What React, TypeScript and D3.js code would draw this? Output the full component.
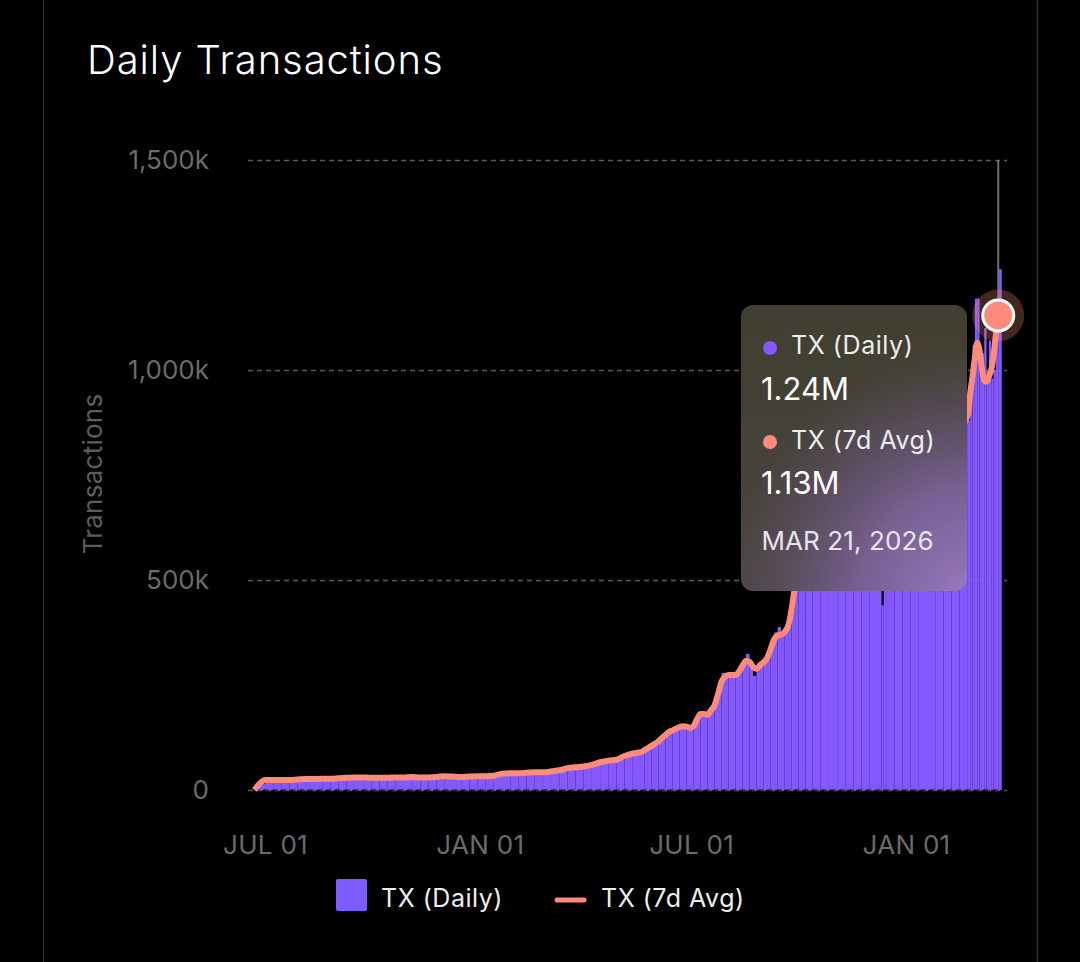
import * as d3 from "d3";
import {useRef, useEffect} from "react";

const txDates = [
    "2024-06-22", "2024-06-26", "2024-07-01", "2024-07-08", "2024-07-15", "2024-07-22", "2024-07-29",
    "2024-08-05", "2024-08-12", "2024-08-19", "2024-08-26", "2024-09-02", "2024-09-09", "2024-09-16",
    "2024-09-23", "2024-09-30", "2024-10-07", "2024-10-14", "2024-10-21", "2024-10-28", "2024-11-04",
    "2024-11-11", "2024-11-18", "2024-11-25", "2024-12-02", "2024-12-09", "2024-12-16", "2024-12-23",
    "2024-12-30", "2025-01-06", "2025-01-13", "2025-01-20", "2025-01-27", "2025-02-03", "2025-02-10",
    "2025-02-17", "2025-02-24", "2025-03-03", "2025-03-10", "2025-03-17", "2025-03-24", "2025-03-31",
    "2025-04-07", "2025-04-14", "2025-04-21", "2025-04-28", "2025-05-05", "2025-05-12",
    "2025-05-19", "2025-05-22", "2025-05-25", "2025-05-28", "2025-05-31", "2025-06-03", "2025-06-06",
    "2025-06-09", "2025-06-12", "2025-06-15", "2025-06-18", "2025-06-21", "2025-06-24", "2025-06-27",
    "2025-06-30", "2025-07-03", "2025-07-06", "2025-07-09", "2025-07-12", "2025-07-15", "2025-07-18",
    "2025-07-21", "2025-07-24", "2025-07-27", "2025-07-30", "2025-08-02", "2025-08-05", "2025-08-08",
    "2025-08-11", "2025-08-14", "2025-08-17", "2025-08-20", "2025-08-23", "2025-08-26", "2025-08-29",
    "2025-09-01", "2025-09-04", "2025-09-07", "2025-09-10", "2025-09-13", "2025-09-16", "2025-09-19",
    "2025-09-22", "2025-09-25", "2025-09-28", "2025-10-01", "2025-10-04", "2025-10-07",
    "2025-10-13", "2025-10-20", "2025-10-27", "2025-11-03", "2025-11-10", "2025-11-17", "2025-11-24", "2025-12-01",
    "2025-12-08", "2025-12-11", "2025-12-13", "2025-12-15", "2025-12-22", "2025-12-29", "2026-01-05",
    "2026-01-12", "2026-01-19", "2026-01-26", "2026-02-02", "2026-02-09", "2026-02-16", "2026-02-23",
    "2026-02-25", "2026-02-27", "2026-03-01", "2026-03-03", "2026-03-05", "2026-03-07", "2026-03-09",
    "2026-03-11", "2026-03-13", "2026-03-15", "2026-03-17", "2026-03-19", "2026-03-21",
];

// thousands of transactions
const txDaily = [
    0, 14, 23, 24, 24, 24, 25,
    26, 26, 27, 27, 28, 29, 30,
    30, 29, 29, 29, 30, 30, 31,
    30, 30, 31, 33, 32, 31, 32,
    33, 33, 34, 39, 40, 40, 41,
    42, 42, 44, 47, 52, 54, 56,
    60, 66, 70, 72, 81, 87,
    90, 95, 100, 105, 110, 116, 124,
    131, 138, 142, 146, 150, 154, 151,
    144, 170, 168, 181, 181, 178, 190,
    201, 250, 279, 272, 274, 274, 274,
    282, 298, 324, 300, 272, 288, 297,
    304, 314, 345, 375, 388, 370, 376,
    390, 430, 490, 560, 600, 620,
    640, 655, 665, 675, 685, 695, 705, 702,
    690, 440, 700, 720, 730, 755, 775,
    785, 805, 825, 845, 865, 880, 880,
    990, 1060, 1170, 1170, 1050, 1040, 1100,
    1000, 1070, 980, 1000, 1090, 1240,
];

const txAvg = [
    0, 14, 24, 24, 24, 24, 25,
    26, 26, 27, 27, 28, 29, 30,
    30, 29, 29, 29, 30, 30, 31,
    30, 30, 31, 33, 32, 31, 32,
    33, 33, 34, 39, 40, 40, 41,
    42, 42, 44, 47, 52, 54, 56,
    60, 66, 70, 72, 81, 87,
    90, 95, 100, 105, 110, 116, 124,
    131, 138, 142, 146, 150, 152, 151,
    148, 152, 168, 181, 181, 179, 190,
    201, 228, 258, 270, 274, 274, 274,
    282, 296, 308, 305, 293, 288, 297,
    304, 314, 335, 358, 368, 370, 376,
    390, 430, 490, 560, 600, 620,
    640, 650, 660, 670, 680, 690, 700, 700,
    690, 695, 697, 700, 720, 730, 750,
    770, 780, 800, 820, 840, 860, 893,
    945, 985, 1030, 1065, 1045, 1005, 975,
    972, 985, 1000, 1035, 1085, 1130,
];

const yTicks = [0, 500, 1000, 1500];
const xTicks = ["2024-07-01", "2025-01-01", "2025-07-01", "2026-01-01"];
const lastBarEnd = "2026-03-24";
const activeDate = "2026-03-21";
const activeAvg = 1130;

const FONT = "Inter, 'Noto Sans', sans-serif";
const PURPLE = "#8559ff";
const SALMON = "#fb8b7b";

export default function App() {
    const svgRef = useRef(null);
    const W = 1080;
    const H = 962;

    useEffect(() => {
        const svg = d3.select(svgRef.current);
        svg.selectAll("*").remove();

        const parse = d3.utcParse("%Y-%m-%d");
        const dates = txDates.map(d => parse(d) as Date);

        // x scale pinned on the two outer JUL/JAN ticks
        const x = d3.scaleUtc()
            .domain([parse("2024-07-01") as Date, parse("2026-01-01") as Date])
            .range([265, 906]);
        const y = d3.scaleLinear().domain([0, 1500]).range([790, 160]);

        const defs = svg.append("defs");
        const base = defs.append("linearGradient").attr("id", "tipBase")
            .attr("x1", 0).attr("y1", 0).attr("x2", 0).attr("y2", 1);
        base.append("stop").attr("offset", "0%").attr("stop-color", "#403f30");
        base.append("stop").attr("offset", "100%").attr("stop-color", "#4b4541");
        const glow = defs.append("radialGradient").attr("id", "tipGlow")
            .attr("gradientUnits", "userSpaceOnUse")
            .attr("cx", 975).attr("cy", 600).attr("r", 250);
        glow.append("stop").attr("offset", "0%").attr("stop-color", "#9b7bc4").attr("stop-opacity", 1);
        glow.append("stop").attr("offset", "45%").attr("stop-color", "#8567a8").attr("stop-opacity", 0.8);
        glow.append("stop").attr("offset", "100%").attr("stop-color", "#6a5580").attr("stop-opacity", 0);

        // card outline
        svg.append("rect")
            .attr("x", 43.5).attr("y", -12).attr("width", 994).attr("height", 1030).attr("rx", 14)
            .attr("fill", "#000").attr("stroke", "#2c2c2c").attr("stroke-width", 1.5);

        svg.append("text")
            .attr("x", 87).attr("y", 74)
            .attr("font-size", 40).attr("font-weight", 300).attr("letter-spacing", 0.9).attr("fill", "#fff")
            .text("Daily Transactions");

        // axes
        const yAxis = svg.append("g")
            .attr("transform", "translate(248,0)")
            .call(d3.axisLeft(y)
                .tickValues(yTicks)
                .tickFormat(d => d3.format(",")(d as number) + (d === 0 ? "" : "k"))
                .tickSizeInner(-759).tickSizeOuter(0).tickPadding(39));
        yAxis.select(".domain").remove();
        yAxis.selectAll(".tick line")
            .attr("stroke", "#5a5a5a").attr("stroke-width", 1.4).attr("stroke-dasharray", "5 4");
        yAxis.selectAll(".tick text")
            .attr("fill", "#6b6b6b").attr("font-size", 26).attr("font-family", FONT);

        const xAxis = svg.append("g")
            .attr("transform", "translate(0,790)")
            .call(d3.axisBottom(x)
                .tickValues(xTicks.map(d => parse(d) as Date))
                .tickFormat(d => d3.utcFormat("%b %d")(d as Date).toUpperCase())
                .tickSize(0).tickPadding(46));
        xAxis.select(".domain").remove();
        xAxis.selectAll(".tick text")
            .attr("fill", "#6b6b6b").attr("font-size", 26).attr("letter-spacing", 0.3).attr("font-family", FONT);

        svg.append("text")
            .attr("transform", "translate(102,474) rotate(-90)")
            .attr("text-anchor", "middle")
            .attr("font-size", 26).attr("letter-spacing", 0.25).attr("fill", "#5c5c5c")
            .text("Transactions");

        // bars run from their date to the next one, the antialiased edges give the stripes
        const barEnd = (i: number) => i < dates.length - 1 ? dates[i + 1] : parse(lastBarEnd) as Date;
        svg.append("g").selectAll("rect")
            .data(txDaily)
            .join("rect")
            .attr("x", (_, i) => x(dates[i]))
            .attr("width", (_, i) => x(barEnd(i)) - x(dates[i]))
            .attr("y", d => y(d))
            .attr("height", d => y(0) - y(d))
            .attr("fill", PURPLE);

        // zero line shows through the bottom of the bars
        svg.append("line")
            .attr("x1", x(dates[0])).attr("x2", x(parse(lastBarEnd) as Date))
            .attr("y1", y(0)).attr("y2", y(0))
            .attr("stroke", "#2a2a3a").attr("stroke-width", 1.4).attr("stroke-dasharray", "5 4");

        const line = d3.line<number>()
            .x((_, i) => x(dates[i]))
            .y(d => y(d))
            .curve(d3.curveMonotoneX);
        svg.append("path")
            .datum(txAvg)
            .attr("fill", "none")
            .attr("stroke", SALMON)
            .attr("stroke-width", 6)
            .attr("stroke-linejoin", "round")
            .attr("d", line);

        // hover state
        const ax = x(parse(activeDate) as Date);
        const ay = y(activeAvg);
        svg.append("line")
            .attr("x1", ax).attr("x2", ax).attr("y1", y(1500)).attr("y2", ay)
            .attr("stroke", "#6f6f6f").attr("stroke-width", 2);
        svg.append("circle").attr("cx", ax).attr("cy", ay).attr("r", 26)
            .attr("fill", SALMON).attr("opacity", 0.27);
        svg.append("circle").attr("cx", ax).attr("cy", ay).attr("r", 15.5)
            .attr("fill", SALMON).attr("stroke", "#fff").attr("stroke-width", 3);

        // tooltip
        const tip = svg.append("g");
        tip.append("rect").attr("x", 741).attr("y", 305).attr("width", 226).attr("height", 286).attr("rx", 12)
            .attr("fill", "url(#tipBase)");
        tip.append("rect").attr("x", 741).attr("y", 305).attr("width", 226).attr("height", 286).attr("rx", 12)
            .attr("fill", "url(#tipGlow)");
        tip.append("circle").attr("cx", 770).attr("cy", 348).attr("r", 7).attr("fill", PURPLE);
        tip.append("circle").attr("cx", 770).attr("cy", 442).attr("r", 7).attr("fill", SALMON);
        const tipText = (tx: number, ty: number, size: number, spacing: number, fill: string, label: string) =>
            tip.append("text").attr("x", tx).attr("y", ty).attr("font-size", size)
                .attr("letter-spacing", spacing).attr("fill", fill).text(label);
        tipText(791, 354, 25, 0.55, "#eeeeee", "TX (Daily)");
        tipText(761, 400, 31, 0, "#ffffff", "1.24M");
        tipText(791, 449, 25, 0.55, "#eeeeee", "TX (7d Avg)");
        tipText(761, 494, 31, 0, "#ffffff", "1.13M");
        tipText(761.5, 550, 26, 0.1, "#e8e4ec", "MAR 21, 2026");

        // legend
        const legend = svg.append("g");
        legend.append("rect").attr("x", 336).attr("y", 879).attr("width", 31).attr("height", 32).attr("rx", 2)
            .attr("fill", "#7c5cff");
        legend.append("text").attr("x", 381).attr("y", 907).attr("font-size", 25).attr("letter-spacing", 0.5)
            .attr("fill", "#eeeeee").text("TX (Daily)");
        legend.append("line").attr("x1", 557).attr("x2", 584).attr("y1", 900).attr("y2", 900)
            .attr("stroke", SALMON).attr("stroke-width", 5).attr("stroke-linecap", "round");
        legend.append("text").attr("x", 601).attr("y", 907).attr("font-size", 25).attr("letter-spacing", 0.5)
            .attr("fill", "#eeeeee").text("TX (7d Avg)");
    }, []);

    return (
        <svg ref={svgRef} width={W} height={H} viewBox={`0 0 ${W} ${H}`}
             style={{position: "absolute", left: 0, top: 0, background: "#000", fontFamily: FONT}} />
    );
}
